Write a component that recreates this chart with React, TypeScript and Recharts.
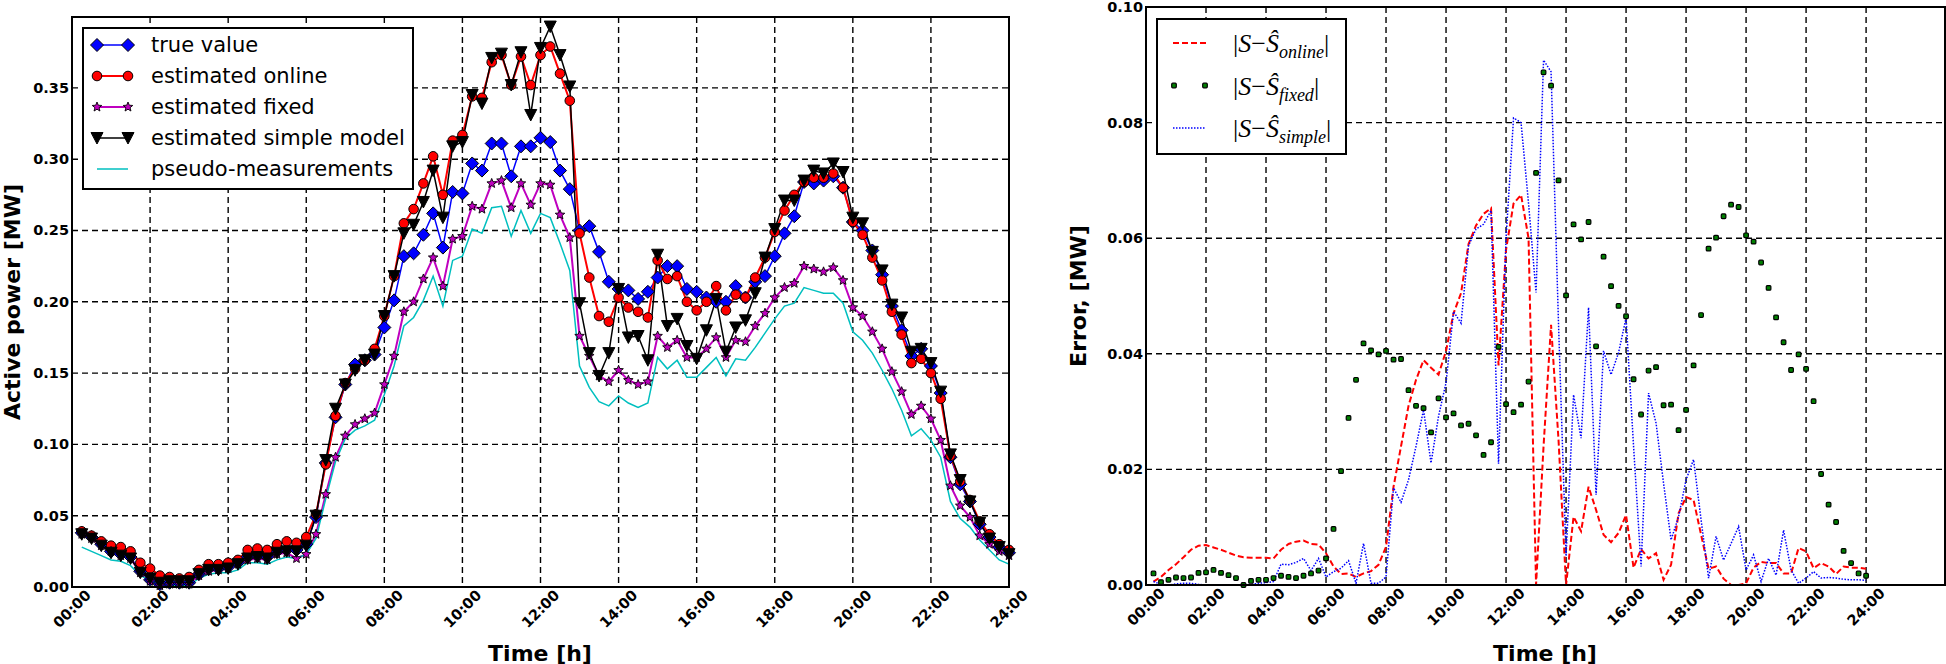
import React from 'react';
import { ComposedChart, Line, XAxis, YAxis, CartesianGrid } from 'recharts';

// 15-minute samples, 00:15 .. 24:00
const hours = Array.from({ length: 96 }, (_, i) => (i + 1) * 0.25);
const timeTicks = [0, 2, 4, 6, 8, 10, 12, 14, 16, 18, 20, 22, 24];
const powerTicks = [0, 0.05, 0.1, 0.15, 0.2, 0.25, 0.3, 0.35];
const errorTicks = [0, 0.02, 0.04, 0.06, 0.08, 0.1];

const trueValue = [
  0.038, 0.035, 0.030, 0.025, 0.023, 0.021, 0.011, 0.005, 0.002, 0.003, 0.003, 0.003, 0.009, 0.013, 0.013, 0.014, 0.017, 0.021, 0.022, 0.021, 0.025, 0.026, 0.026, 0.030,
  0.049, 0.087, 0.119, 0.142, 0.156, 0.159, 0.163, 0.182, 0.201, 0.232, 0.234, 0.247, 0.262, 0.238, 0.277, 0.276, 0.297, 0.292, 0.311, 0.311, 0.288, 0.309, 0.309, 0.315,
  0.312, 0.292, 0.279, 0.250, 0.253, 0.235, 0.214, 0.209, 0.208, 0.202, 0.207, 0.217, 0.225, 0.225, 0.209, 0.207, 0.203, 0.200, 0.200, 0.211, 0.203, 0.214, 0.218, 0.232,
  0.248, 0.260, 0.284, 0.283, 0.285, 0.288, 0.280, 0.256, 0.250, 0.236, 0.219, 0.197, 0.180, 0.162, 0.167, 0.155, 0.136, 0.091, 0.072, 0.060, 0.044, 0.035, 0.028, 0.024,
];
const estOnline = [
  0.039, 0.036, 0.032, 0.029, 0.028, 0.025, 0.017, 0.013, 0.008, 0.007, 0.006, 0.007, 0.012, 0.016, 0.016, 0.017, 0.019, 0.026, 0.027, 0.026, 0.030, 0.032, 0.031, 0.035,
  0.051, 0.086, 0.120, 0.143, 0.153, 0.159, 0.167, 0.190, 0.218, 0.255, 0.265, 0.283, 0.302, 0.275, 0.313, 0.317, 0.344, 0.343, 0.368, 0.373, 0.352, 0.372, 0.352, 0.373,
  0.379, 0.360, 0.341, 0.248, 0.217, 0.190, 0.186, 0.203, 0.196, 0.193, 0.189, 0.229, 0.216, 0.218, 0.200, 0.194, 0.200, 0.211, 0.194, 0.205, 0.203, 0.217, 0.231, 0.249,
  0.264, 0.275, 0.284, 0.287, 0.287, 0.290, 0.280, 0.256, 0.247, 0.231, 0.215, 0.193, 0.177, 0.157, 0.160, 0.150, 0.132, 0.092, 0.074, 0.061, 0.046, 0.037, 0.030, 0.026,
];
const estFixed = [
  0.037, 0.034, 0.029, 0.025, 0.022, 0.020, 0.010, 0.004, 0.001, 0.002, 0.002, 0.002, 0.008, 0.011, 0.012, 0.013, 0.016, 0.019, 0.020, 0.019, 0.023, 0.024, 0.020, 0.023,
  0.037, 0.065, 0.091, 0.106, 0.114, 0.118, 0.122, 0.142, 0.162, 0.193, 0.200, 0.216, 0.231, 0.211, 0.244, 0.246, 0.267, 0.265, 0.283, 0.285, 0.266, 0.283, 0.268, 0.283,
  0.282, 0.261, 0.245, 0.176, 0.162, 0.148, 0.144, 0.152, 0.145, 0.142, 0.144, 0.176, 0.168, 0.173, 0.161, 0.161, 0.167, 0.175, 0.161, 0.173, 0.172, 0.183, 0.192, 0.203,
  0.210, 0.213, 0.225, 0.223, 0.221, 0.224, 0.215, 0.196, 0.190, 0.179, 0.167, 0.151, 0.137, 0.121, 0.127, 0.118, 0.103, 0.071, 0.057, 0.049, 0.036, 0.030, 0.025, 0.022,
];
const estSimple = [
  0.037, 0.034, 0.029, 0.024, 0.022, 0.020, 0.010, 0.006, 0.003, 0.004, 0.004, 0.004, 0.009, 0.012, 0.012, 0.013, 0.016, 0.020, 0.021, 0.020, 0.024, 0.025, 0.025, 0.029,
  0.050, 0.089, 0.125, 0.142, 0.152, 0.159, 0.163, 0.190, 0.218, 0.248, 0.254, 0.270, 0.292, 0.259, 0.309, 0.312, 0.345, 0.339, 0.371, 0.374, 0.352, 0.375, 0.331, 0.378,
  0.393, 0.373, 0.351, 0.199, 0.164, 0.148, 0.164, 0.209, 0.175, 0.176, 0.159, 0.233, 0.183, 0.188, 0.169, 0.160, 0.180, 0.202, 0.165, 0.182, 0.187, 0.206, 0.231, 0.251,
  0.271, 0.271, 0.285, 0.292, 0.290, 0.297, 0.291, 0.259, 0.255, 0.235, 0.222, 0.198, 0.189, 0.165, 0.167, 0.157, 0.137, 0.093, 0.075, 0.060, 0.045, 0.034, 0.028, 0.023,
];
const pseudo = [
  0.028, 0.025, 0.022, 0.019, 0.018, 0.015, 0.008, 0.005, 0.001, 0.001, 0.001, 0.001, 0.006, 0.009, 0.010, 0.010, 0.012, 0.017, 0.017, 0.016, 0.019, 0.021, 0.020, 0.023,
  0.034, 0.062, 0.088, 0.104, 0.110, 0.113, 0.117, 0.135, 0.155, 0.183, 0.189, 0.201, 0.218, 0.197, 0.229, 0.232, 0.251, 0.248, 0.266, 0.267, 0.246, 0.264, 0.248, 0.262,
  0.259, 0.241, 0.222, 0.155, 0.140, 0.130, 0.127, 0.134, 0.129, 0.126, 0.129, 0.161, 0.153, 0.159, 0.147, 0.147, 0.154, 0.161, 0.148, 0.160, 0.159, 0.168, 0.178, 0.188,
  0.197, 0.199, 0.210, 0.208, 0.206, 0.206, 0.199, 0.179, 0.173, 0.164, 0.152, 0.139, 0.124, 0.106, 0.111, 0.103, 0.091, 0.060, 0.048, 0.042, 0.033, 0.026, 0.019, 0.016,
];

const errOnline = [
  0.0006, 0.0014, 0.0026, 0.0036, 0.0048, 0.0061, 0.0068, 0.0069, 0.0065, 0.0061, 0.0056, 0.0051, 0.0048, 0.0047, 0.0047, 0.0047, 0.0046, 0.0061, 0.0071, 0.0075, 0.0077, 0.0071, 0.0070, 0.0055,
  0.0032, 0.0019, 0.0020, 0.0014, 0.0020, 0.0024, 0.0035, 0.0066, 0.0170, 0.0240, 0.0310, 0.0355, 0.0389, 0.0376, 0.0364, 0.0405, 0.0470, 0.0505, 0.0590, 0.0622, 0.0642, 0.0652, 0.0380, 0.0580,
  0.0660, 0.0675, 0.0600, 0.0000, 0.0240, 0.0450, 0.0250, 0.0000, 0.0118, 0.0093, 0.0170, 0.0130, 0.0087, 0.0074, 0.0090, 0.0121, 0.0030, 0.0062, 0.0046, 0.0055, 0.0009, 0.0035, 0.0124, 0.0152,
  0.0147, 0.0087, 0.0028, 0.0032, 0.0011, 0.0000, 0.0000, 0.0003, 0.0030, 0.0040, 0.0038, 0.0038, 0.0020, 0.0020, 0.0064, 0.0058, 0.0029, 0.0038, 0.0032, 0.0019, 0.0032, 0.0030, 0.0030, 0.0028,
];
const errFixed = [
  0.0020, 0.0005, 0.0009, 0.0013, 0.0012, 0.0013, 0.0021, 0.0022, 0.0026, 0.0021, 0.0017, 0.0012, 0.0000, 0.0007, 0.0009, 0.0009, 0.0012, 0.0016, 0.0014, 0.0012, 0.0016, 0.0020, 0.0025, 0.0046,
  0.0097, 0.0197, 0.0289, 0.0355, 0.0418, 0.0406, 0.0399, 0.0405, 0.0390, 0.0391, 0.0337, 0.0310, 0.0306, 0.0264, 0.0323, 0.0290, 0.0297, 0.0276, 0.0279, 0.0259, 0.0225, 0.0247, 0.0412, 0.0313,
  0.0299, 0.0312, 0.0352, 0.0713, 0.0887, 0.0864, 0.0700, 0.0501, 0.0624, 0.0598, 0.0628, 0.0413, 0.0568, 0.0517, 0.0483, 0.0465, 0.0356, 0.0295, 0.0371, 0.0377, 0.0311, 0.0312, 0.0268, 0.0303,
  0.0380, 0.0467, 0.0582, 0.0601, 0.0638, 0.0658, 0.0654, 0.0605, 0.0594, 0.0558, 0.0514, 0.0463, 0.0420, 0.0372, 0.0399, 0.0374, 0.0318, 0.0192, 0.0139, 0.0109, 0.0059, 0.0038, 0.0020, 0.0016,
];
const errSimple = [
  0.0006, 0.0001, 0.0000, 0.0002, 0.0003, 0.0003, 0.0001, 0.0000, 0.0000, 0.0000, 0.0000, 0.0000, 0.0000, 0.0001, 0.0003, 0.0004, 0.0006, 0.0036, 0.0035, 0.0039, 0.0046, 0.0025, 0.0046, 0.0014,
  0.0023, 0.0029, 0.0042, 0.0003, 0.0072, 0.0003, 0.0003, 0.0014, 0.0168, 0.0143, 0.0182, 0.0240, 0.0303, 0.0211, 0.0292, 0.0350, 0.0473, 0.0453, 0.0587, 0.0616, 0.0624, 0.0648, 0.0210, 0.0600,
  0.0808, 0.0800, 0.0660, 0.0506, 0.0908, 0.0888, 0.0450, 0.0050, 0.0329, 0.0254, 0.0480, 0.0156, 0.0405, 0.0364, 0.0402, 0.0462, 0.0240, 0.0032, 0.0332, 0.0280, 0.0176, 0.0078, 0.0118, 0.0182,
  0.0217, 0.0113, 0.0012, 0.0084, 0.0043, 0.0072, 0.0101, 0.0026, 0.0052, 0.0006, 0.0046, 0.0017, 0.0095, 0.0026, 0.0003, 0.0012, 0.0023, 0.0012, 0.0013, 0.0012, 0.0010, 0.0009, 0.0009, 0.0008,
];

const powerData = hours.map((t, i) => ({
  t,
  trueValue: trueValue[i],
  estOnline: estOnline[i],
  estFixed: estFixed[i],
  estSimple: estSimple[i],
  pseudo: pseudo[i],
}));
const errorData = hours.map((t, i) => ({
  t,
  errOnline: errOnline[i],
  errFixed: errFixed[i],
  errSimple: errSimple[i],
}));

const FONT = '"DejaVu Sans", sans-serif';
const GRID_DASH = '6 4';

const Diamond = ({ cx, cy }: { cx: number; cy: number }) => (
  <polygon
    points={`${cx},${cy - 6.5} ${cx + 6.5},${cy} ${cx},${cy + 6.5} ${cx - 6.5},${cy}`}
    fill="#0000ff"
    stroke="#000"
    strokeWidth={1}
  />
);
const RedDot = ({ cx, cy }: { cx: number; cy: number }) => (
  <circle cx={cx} cy={cy} r={4.8} fill="#ff0000" stroke="#000" strokeWidth={1} />
);
const TriDown = ({ cx, cy }: { cx: number; cy: number }) => (
  <polygon
    points={`${cx - 6},${cy - 5.5} ${cx + 6},${cy - 5.5} ${cx},${cy + 6}`}
    fill="#000"
    stroke="#000"
    strokeWidth={1}
  />
);
const Star = ({ cx, cy }: { cx: number; cy: number }) => {
  const pts: string[] = [];
  for (let k = 0; k < 10; k++) {
    const r = k % 2 === 0 ? 5 : 2.2;
    const a = -Math.PI / 2 + (k * Math.PI) / 5;
    pts.push(`${cx + r * Math.cos(a)},${cy + r * Math.sin(a)}`);
  }
  return <polygon points={pts.join(' ')} fill="#bf00bf" stroke="#000" strokeWidth={0.9} />;
};
const GreenDot = ({ cx, cy }: { cx: number; cy: number }) => (
  <rect x={cx - 2.3} y={cy - 2.3} width={4.6} height={4.6} rx={1} fill="#008000" stroke="#000" strokeWidth={1.2} />
);

const dotOf = (Shape: any) => (p: any) =>
  p.cx == null ? <g key={p.index} /> : <Shape key={p.index} cx={p.cx} cy={p.cy} />;

const timeTick = (props: any) => {
  const { x, y, payload } = props;
  const cy = y + 22;
  const label = `${String(payload.value).padStart(2, '0')}:00`;
  return (
    <text
      key={`tt-${payload.value}`}
      x={x}
      y={cy}
      transform={`rotate(-45 ${x} ${cy})`}
      textAnchor="middle"
      dominantBaseline="central"
      fontFamily={FONT}
      fontWeight="bold"
      fontSize={14.5}
      fill="#000"
    >
      {label}
    </text>
  );
};
const valueTick = (props: any) => {
  const { x, y, payload } = props;
  return (
    <text
      key={`vt-${payload.value}`}
      x={x}
      y={y}
      textAnchor="end"
      dominantBaseline="central"
      fontFamily={FONT}
      fontWeight="bold"
      fontSize={14.5}
      fill="#000"
    >
      {Number(payload.value).toFixed(2)}
    </text>
  );
};

const leftItems = [
  { label: 'true value', color: '#0000ff', width: 1.5, Shape: Diamond },
  { label: 'estimated online', color: '#ff0000', width: 2, Shape: RedDot },
  { label: 'estimated fixed', color: '#bf00bf', width: 2, Shape: Star },
  { label: 'estimated simple model', color: '#000', width: 1.5, Shape: TriDown },
  { label: 'pseudo-measurements', color: '#00bfbf', width: 1.5, Shape: null },
];
const rightItems = [
  { sub: 'online', kind: 'dash' },
  { sub: 'fixed', kind: 'dots' },
  { sub: 'simple', kind: 'dotted' },
];

const Overlay = () => (
  <svg width={1946} height={664} style={{ position: 'absolute', left: 0, top: 0, pointerEvents: 'none' }}>
    {/* frames */}
    <rect x={72} y={17} width={937} height={570} fill="none" stroke="#000" strokeWidth={2} />
    <rect x={1146} y={7} width={799} height={578} fill="none" stroke="#000" strokeWidth={2} />

    {/* axis titles */}
    <text x={12} y={302} transform="rotate(-90 12 302)" textAnchor="middle" dominantBaseline="central" fontFamily={FONT} fontWeight="bold" fontSize={22}>
      Active power [MW]
    </text>
    <text x={540} y={653} textAnchor="middle" dominantBaseline="central" fontFamily={FONT} fontWeight="bold" fontSize={22}>
      Time [h]
    </text>
    <text x={1078} y={296} transform="rotate(-90 1078 296)" textAnchor="middle" dominantBaseline="central" fontFamily={FONT} fontWeight="bold" fontSize={22}>
      Error, [MW]
    </text>
    <text x={1545} y={653} textAnchor="middle" dominantBaseline="central" fontFamily={FONT} fontWeight="bold" fontSize={22}>
      Time [h]
    </text>

    {/* left legend */}
    <rect x={83} y={28} width={330} height={161} fill="#fff" stroke="#000" strokeWidth={2} />
    {leftItems.map((it, i) => {
      const cy = 45 + i * 31;
      const S = it.Shape as any;
      return (
        <g key={it.label}>
          <line x1={97} y1={cy} x2={128} y2={cy} stroke={it.color} strokeWidth={it.width} />
          {S && <S cx={97} cy={cy} />}
          {S && <S cx={128} cy={cy} />}
          <text x={151} y={cy} dominantBaseline="central" fontFamily={FONT} fontSize={21}>
            {it.label}
          </text>
        </g>
      );
    })}

    {/* right legend */}
    <rect x={1157} y={19} width={189} height={135} fill="#fff" stroke="#000" strokeWidth={2} />
    {rightItems.map((it, i) => {
      const cy = 43 + i * 42.5;
      return (
        <g key={it.sub}>
          {it.kind === 'dash' && <line x1={1173} y1={cy} x2={1206} y2={cy} stroke="#ff0000" strokeWidth={2} strokeDasharray="6 3" />}
          {it.kind === 'dotted' && <line x1={1173} y1={cy} x2={1206} y2={cy} stroke="#0000ff" strokeWidth={1.5} strokeDasharray="1.5 1.5" />}
          {it.kind === 'dots' && (
            <>
              <GreenDot cx={1174} cy={cy} />
              <GreenDot cx={1205} cy={cy} />
            </>
          )}
          <text x={1233} y={cy + 9} fontFamily='"Liberation Serif", serif' fontSize={26}>
            <tspan>|</tspan>
            <tspan fontStyle="italic">S</tspan>
            <tspan>−</tspan>
            <tspan fontStyle="italic">Ŝ</tspan>
            <tspan fontStyle="italic" fontSize={18} dy={6}>
              {it.sub}
            </tspan>
            <tspan dy={-6}>|</tspan>
          </text>
        </g>
      );
    })}
  </svg>
);

const App = () => {
  return (
    <div style={{ position: 'absolute', left: 0, top: 0, width: 1946, height: 664, background: '#fff' }}>
      <div style={{ position: 'absolute', left: 0, top: 0 }}>
        <ComposedChart width={1030} height={664} data={powerData} margin={{ top: 17, right: 21, bottom: 0, left: 0 }}>
          <CartesianGrid stroke="#000" strokeDasharray={GRID_DASH} strokeWidth={1.4} />
          <XAxis
            dataKey="t"
            type="number"
            domain={[0, 24]}
            ticks={timeTicks}
            height={77}
            axisLine={false}
            tickLine={false}
            tickSize={0}
            tickMargin={0}
            tick={timeTick}
            interval={0}
          />
          <YAxis
            type="number"
            domain={[0, 0.3997]}
            ticks={powerTicks}
            width={72}
            axisLine={false}
            tickLine={false}
            tickSize={0}
            tickMargin={3}
            tick={valueTick}
            interval={0}
          />
          <Line dataKey="trueValue" type="linear" stroke="#0000ff" strokeWidth={1.5} dot={dotOf(Diamond)} activeDot={false} isAnimationActive={false} />
          <Line dataKey="estOnline" type="linear" stroke="#ff0000" strokeWidth={2} dot={dotOf(RedDot)} activeDot={false} isAnimationActive={false} />
          <Line dataKey="estFixed" type="linear" stroke="#bf00bf" strokeWidth={2} dot={dotOf(Star)} activeDot={false} isAnimationActive={false} />
          <Line dataKey="estSimple" type="linear" stroke="#000" strokeWidth={1.5} dot={dotOf(TriDown)} activeDot={false} isAnimationActive={false} />
          <Line dataKey="pseudo" type="linear" stroke="#00bfbf" strokeWidth={1.5} dot={false} activeDot={false} isAnimationActive={false} />
        </ComposedChart>
      </div>
      <div style={{ position: 'absolute', left: 1000, top: 0 }}>
        <ComposedChart width={946} height={664} data={errorData} margin={{ top: 7, right: 1, bottom: 0, left: 0 }}>
          <CartesianGrid stroke="#000" strokeDasharray={GRID_DASH} strokeWidth={1.4} />
          <XAxis
            dataKey="t"
            type="number"
            domain={[0, 26.63]}
            ticks={timeTicks}
            height={79}
            axisLine={false}
            tickLine={false}
            tickSize={0}
            tickMargin={0}
            tick={timeTick}
            interval={0}
          />
          <YAxis
            type="number"
            domain={[0, 0.1]}
            ticks={errorTicks}
            width={146}
            axisLine={false}
            tickLine={false}
            tickSize={0}
            tickMargin={3}
            tick={valueTick}
            interval={0}
          />
          <Line dataKey="errOnline" type="linear" stroke="#ff0000" strokeWidth={2} strokeDasharray="6 3" dot={false} activeDot={false} isAnimationActive={false} />
          <Line dataKey="errFixed" type="linear" stroke="none" strokeWidth={0} dot={dotOf(GreenDot)} activeDot={false} isAnimationActive={false} />
          <Line dataKey="errSimple" type="linear" stroke="#0000ff" strokeWidth={1.5} strokeDasharray="1.5 1.5" dot={false} activeDot={false} isAnimationActive={false} />
        </ComposedChart>
      </div>
      <Overlay />
    </div>
  );
};

export default App;
